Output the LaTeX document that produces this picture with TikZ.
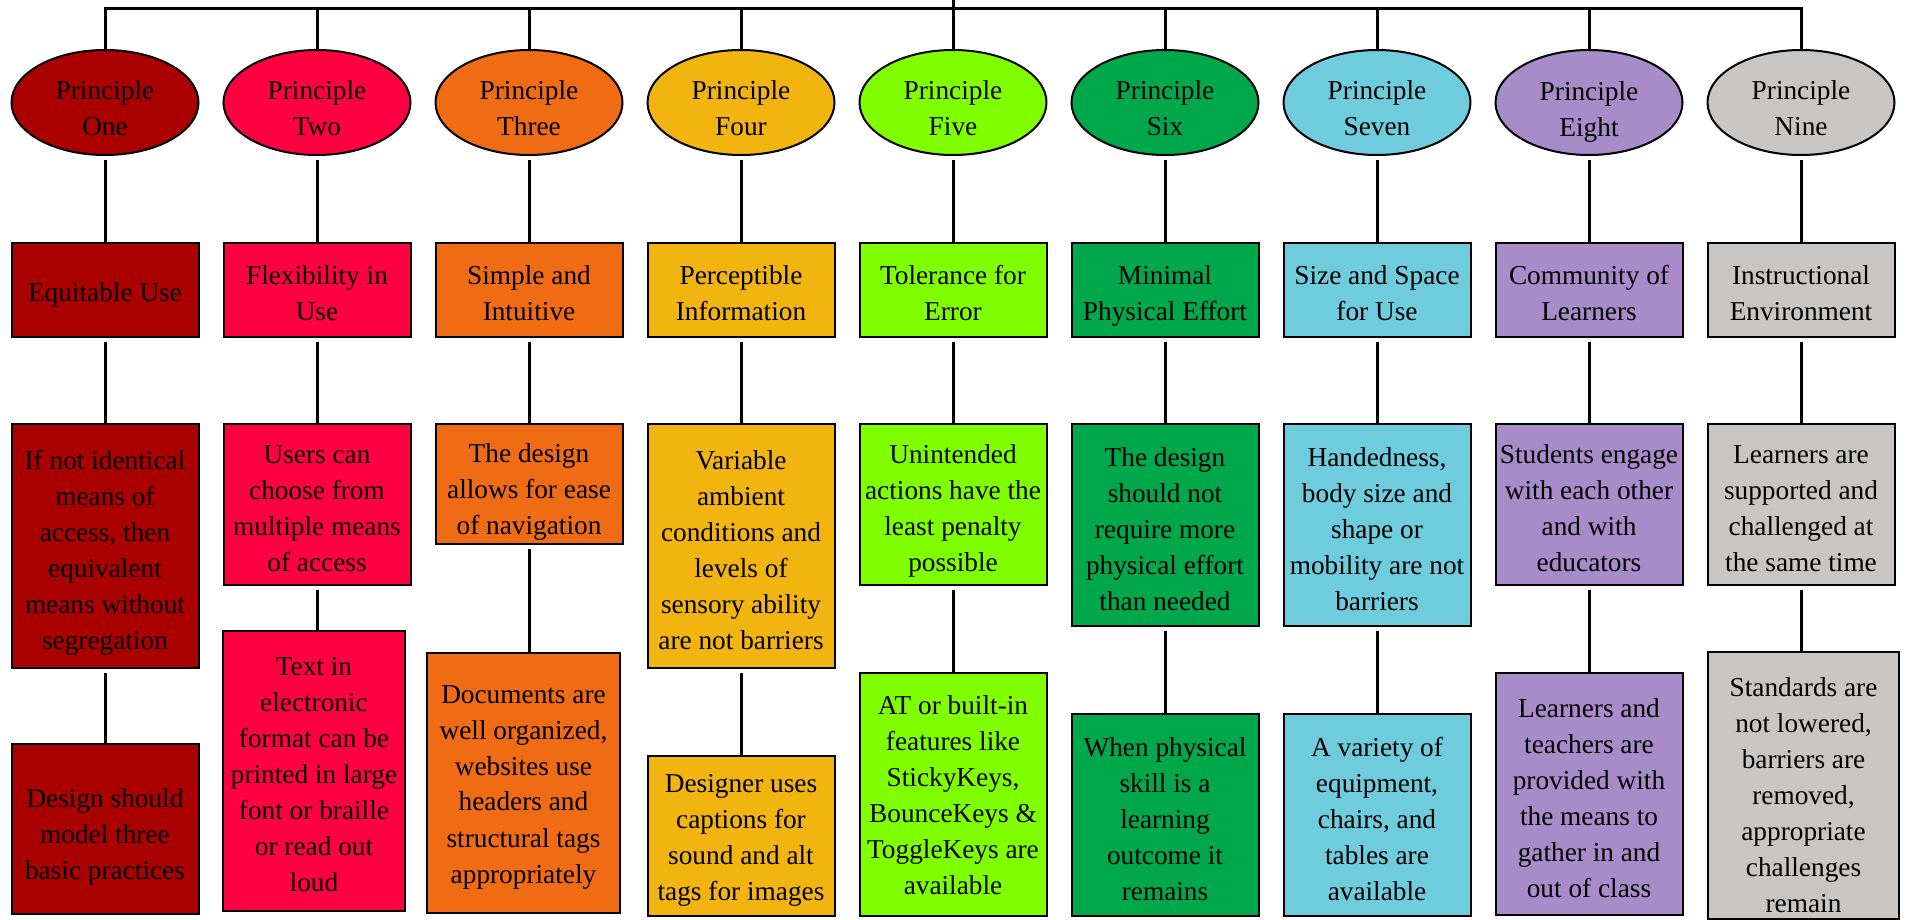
\documentclass[tikz,border=0pt]{standalone}
\usepackage{fontspec}
\setmainfont{Liberation Serif}
\usetikzlibrary{shapes.geometric}
\definecolor{cA}{RGB}{170,0,0}
\definecolor{cB}{RGB}{255,0,64}
\definecolor{cC}{RGB}{240,108,20}
\definecolor{cD}{RGB}{242,180,15}
\definecolor{cE}{RGB}{128,255,0}
\definecolor{cF}{RGB}{0,168,75}
\definecolor{cG}{RGB}{110,204,220}
\definecolor{cH}{RGB}{168,140,202}
\definecolor{cI}{RGB}{200,197,195}
\tikzset{
  conn/.style={line width=1.5pt},
  gapconn/.style={conn, shorten <=2pt},
  shapebase/.style={draw=black, line width=1pt, inner sep=0pt},
  pbox/.style={shapebase, rectangle},
  pell/.style={shapebase, ellipse, minimum width=93.5pt, minimum height=52.5pt},
  txt/.style={align=center, inner sep=0pt, font=\fontsize{13.65}{18}\selectfont},
}
% [text shift]{name}{colour}{x px}{y px}{width}{height}{text}
\newcommand{\ubox}[8][-2pt]{%
  \node[pbox, fill=#3, minimum width=#6, minimum height=#7] (#2) at (#4,#5) {};
  \node[txt] (#2t) at ([yshift=#1]#2.center) {#8};}
\newcommand{\uell}[5][-2.6pt]{%
  \node[pell, fill=#3] (#2) at (#4,102.5) {};
  \node[txt] (#2t) at ([yshift=#1]#2.center) {#5};}
\begin{document}
\begin{tikzpicture}[x=0.5pt, y=-0.5pt]
\useasboundingbox (0,0) rectangle (1906,920);
% ellipses
\uell{e1}{cA}{105}{Principle\\One}
\uell{e2}{cB}{317}{Principle\\Two}
\uell{e3}{cC}{529}{Principle\\Three}
\uell{e4}{cD}{741}{Principle\\Four}
\uell{e5}{cE}{953}{Principle\\Five}
\uell{e6}{cF}{1165}{Principle\\Six}
\uell{e7}{cG}{1377}{Principle\\Seven}
\uell[-4.6pt]{e8}{cH}{1589}{Principle\\Eight}
\uell{e9}{cI}{1801}{Principle\\Nine}
% row 2
\ubox[-2.5pt]{a1}{cA}{105}{290}{93.5pt}{47pt}{Equitable Use}
\ubox[-1.6pt]{a2}{cB}{317}{290}{93.5pt}{47pt}{Flexibility in\\Use}
\ubox[-1.6pt]{a3}{cC}{529}{290}{93.5pt}{47pt}{Simple and\\Intuitive}
\ubox[-1.6pt]{a4}{cD}{741}{290}{93.5pt}{47pt}{Perceptible\\Information}
\ubox[-1.6pt]{a5}{cE}{953}{290}{93.5pt}{47pt}{Tolerance for\\Error}
\ubox[-2.8pt]{a6}{cF}{1165}{290}{93.5pt}{47pt}{Minimal\\Physical Effort}
\ubox[-1.6pt]{a7}{cG}{1377}{290}{93.5pt}{47pt}{Size and Space\\for Use}
\ubox[-1.6pt]{a8}{cH}{1589}{290}{93.5pt}{47pt}{Community of\\Learners}
\ubox[-1.6pt]{a9}{cI}{1801}{290}{93.5pt}{47pt}{Instructional\\Environment}
% row 3
\ubox[-3.2pt]{b1}{cA}{105}{546}{93.5pt}{122pt}{If not identical\\means of\\access, then\\equivalent\\means without\\segregation}
\ubox{b2}{cB}{317}{504.5}{93.5pt}{80.5pt}{Users can\\choose from\\multiple means\\of access}
\ubox[-3.8pt]{b3}{cC}{529}{484}{93.5pt}{60pt}{The design\\allows for ease\\of navigation}
\ubox{b4}{cD}{741}{546}{93.5pt}{122pt}{Variable\\ambient\\conditions and\\levels of\\sensory ability\\are not barriers}
\ubox[-3.2pt]{b5}{cE}{953}{504.5}{93.5pt}{80.5pt}{Unintended\\actions have the\\least penalty\\possible}
\ubox{b6}{cF}{1165}{525}{93.5pt}{101pt}{The design\\should not\\require more\\physical effort\\than needed}
\ubox{b7}{cG}{1377}{525}{93.5pt}{101pt}{Handedness,\\body size and\\shape or\\mobility are not\\barriers}
\ubox{b8}{cH}{1589}{504.5}{93.5pt}{80.5pt}{Students engage\\with each other\\and with\\educators}
\ubox{b9}{cI}{1801}{504.5}{93.5pt}{80.5pt}{Learners are\\supported and\\challenged at\\the same time}
% row 4
\ubox[-3.8pt]{d1}{cA}{105}{829}{93.5pt}{85pt}{Design should\\model three\\basic practices}
\ubox{d2}{cB}{314}{771}{91pt}{140pt}{Text in\\electronic\\format can be\\printed in large\\font or braille\\or read out\\loud}
\ubox{d3}{cC}{523.5}{783}{96.5pt}{130pt}{Documents are\\well organized,\\websites use\\headers and\\structural tags\\appropriately}
\ubox{d4}{cD}{741}{836}{93.5pt}{80pt}{Designer uses\\captions for\\sound and alt\\tags for images}
\ubox[-0.2pt]{d5}{cE}{953}{794.5}{93.5pt}{121.5pt}{AT or built-in\\features like\\StickyKeys,\\BounceKeys \&\\ToggleKeys are\\available}
\ubox{d6}{cF}{1165}{815}{93.5pt}{101pt}{When physical\\skill is a\\learning\\outcome it\\remains}
\ubox{d7}{cG}{1377}{815}{93.5pt}{101pt}{A variety of\\equipment,\\chairs, and\\tables are\\available}
\ubox{d8}{cH}{1589}{794}{93.5pt}{121pt}{Learners and\\teachers are\\provided with\\the means to\\gather in and\\out of class}
\ubox[-5pt]{d9}{cI}{1803.5}{785.5}{95.5pt}{133.5pt}{Standards are\\not lowered,\\barriers are\\removed,\\appropriate\\challenges\\remain}
% bus and root
\coordinate (bus) at (953,9);
\coordinate (root) at (953,0);
\draw[conn] (e1.north) -- (e1.north |- bus) -- (e9.north |- bus) -- (e9.north);
\draw[conn] (root) -- (e5.north);
\foreach \k in {2,3,4,6,7,8}{
  \draw[conn] (e\k.north |- bus) -- (e\k.north);
}
% vertical connectors
\foreach \k in {1,...,9}{
  \draw[gapconn] (e\k.south) -- (a\k.north);
  \draw[gapconn] (a\k.south) -- (b\k.north);
  \draw[gapconn] (b\k.south) -- (b\k.south |- d\k.north);
}
\end{tikzpicture}
\end{document}
